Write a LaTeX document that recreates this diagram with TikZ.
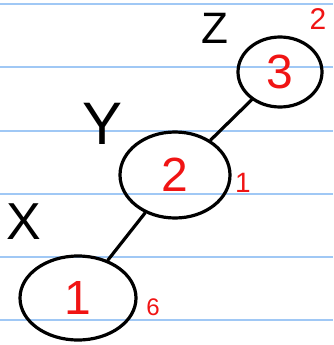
\documentclass[tikz,border=0pt]{standalone}
\usepackage{fontspec}
\setsansfont{Liberation Sans}
\usetikzlibrary{shapes.geometric, positioning}

\definecolor{ruleblue}{RGB}{160,200,245}
\definecolor{inkred}{RGB}{240,20,20}

\begin{document}
\begin{tikzpicture}[
    x=1pt, y=-1pt,
    treenode/.style={ellipse, draw=black, line width=3.2pt, inner sep=0pt, text=inkred, font=\sffamily\fontsize{48}{48}\selectfont},
    rankmark/.style={text=inkred, font=\sffamily\fontsize{28}{28}\selectfont},
    varname/.style={text=black, font=\sffamily\fontsize{52}{52}\selectfont},
    edge/.style={draw=black, line width=3.2pt, line cap=round}
]
\useasboundingbox (0,0) rectangle (333,345);

% ---------- Ruled paper ----------
\foreach \y in {4,67,131,194,257,320}
    \draw[ruleblue, line width=1.8pt] (0,\y) -- (333,\y);

% ---------- Tree ----------
\node[treenode, minimum width=84pt, minimum height=70pt] (N3) at (280,72) {3};
\node[treenode, minimum width=110pt, minimum height=86pt] (N2) at (175,175) {2};
\node[treenode, minimum width=116pt, minimum height=84pt] (N1) at (78,298) {1};

% ---------- Marks ----------
\node[rankmark, font=\sffamily\fontsize{30}{30}\selectfont] (R3) at (318,19) {2};
\node[rankmark] (R2) at (243,183) {1};
\node[rankmark, font=\sffamily\fontsize{24}{24}\selectfont] (R1) at (153,307) {6};

% ---------- Labels ----------
\node[varname, font=\sffamily\fontsize{44}{44}\selectfont] (Z) at (215,28) {Z};
\node[varname, font=\sffamily\fontsize{60}{60}\selectfont] (Y) at (103,124) {Y};
\node[varname] (X) at (24,222) {X};

% ---------- Connections ----------
\foreach \a/\b in {N3/N2, N2/N1}
    \draw[edge] (\a) -- (\b);

\end{tikzpicture}
\end{document}
